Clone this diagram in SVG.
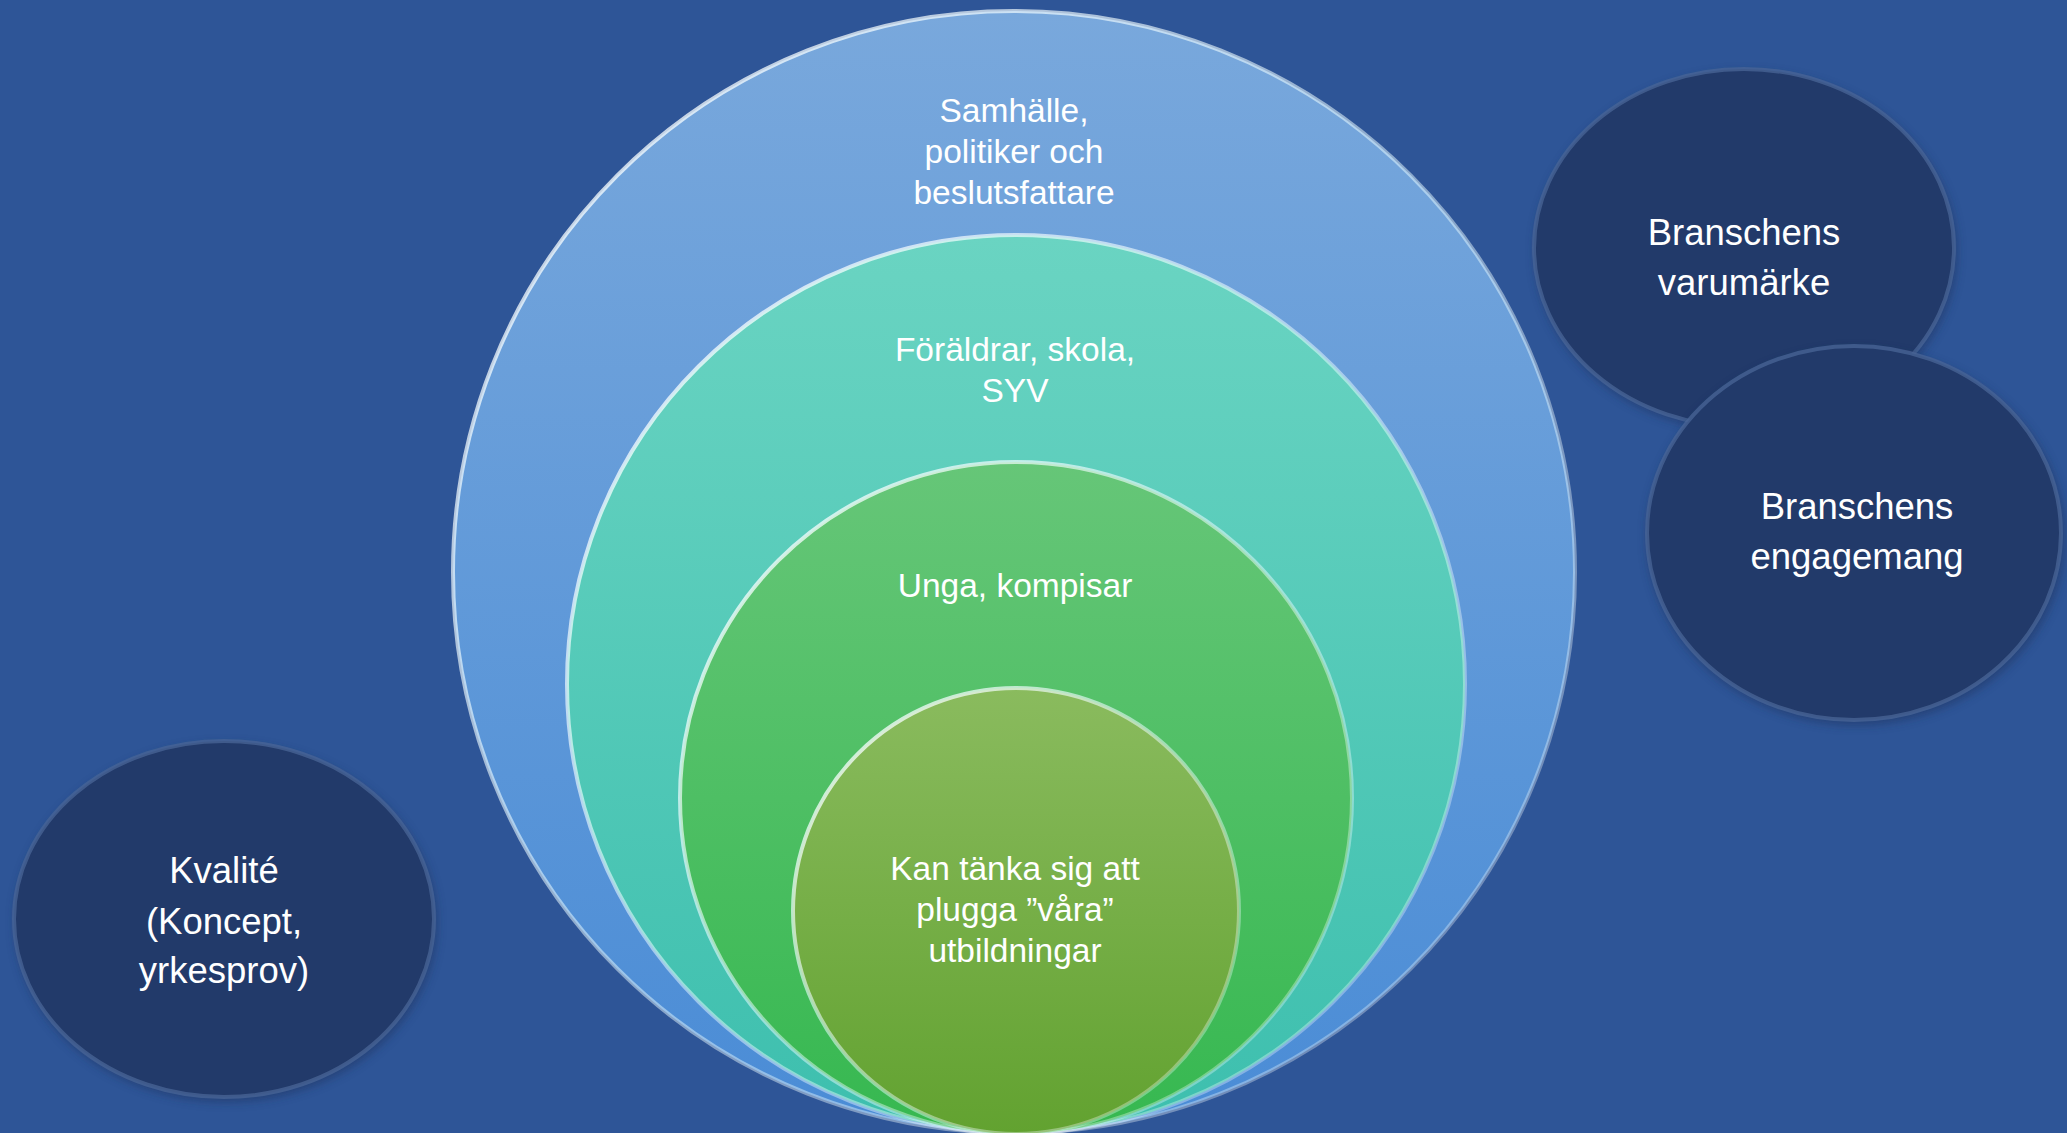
<svg xmlns="http://www.w3.org/2000/svg" width="2067" height="1133" viewBox="0 0 2067 1133">
<defs>
<style>
.t{font-family:"Liberation Sans","Open Sans",Arial,sans-serif;fill:#ffffff;text-anchor:middle}
.c{font-size:33.5px}
.d{font-size:36.5px}
.dark{fill:#223a6a;stroke:#4a6597;stroke-width:4;stroke-opacity:0.75}
</style>
<linearGradient id="g1" x1="0" y1="0" x2="0" y2="1"><stop offset="0" stop-color="#79a8dc"/><stop offset="1" stop-color="#4a8cd6"/></linearGradient>
<linearGradient id="g2" x1="0" y1="0" x2="0" y2="1"><stop offset="0" stop-color="#6ad4c2"/><stop offset="1" stop-color="#3dbfae"/></linearGradient>
<linearGradient id="g3" x1="0" y1="0" x2="0" y2="1"><stop offset="0" stop-color="#66c678"/><stop offset="1" stop-color="#36b850"/></linearGradient>
<linearGradient id="g4" x1="0" y1="0" x2="0" y2="1"><stop offset="0" stop-color="#8abb5e"/><stop offset="1" stop-color="#62a230"/></linearGradient>
<linearGradient id="rim" x1="0" y1="0" x2="1" y2="1"><stop offset="0" stop-color="#ffffff" stop-opacity="0.85"/><stop offset="0.5" stop-color="#e8fbff" stop-opacity="0.5"/><stop offset="1" stop-color="#ffffff" stop-opacity="0.25"/></linearGradient>
<filter id="sh" x="-10%" y="-10%" width="120%" height="120%"><feGaussianBlur stdDeviation="5"/></filter>
</defs>
<rect width="2067" height="1133" fill="#2e5597"/>
<g id="circle-samhalle">
<circle cx="1014" cy="572" r="561" fill="url(#g1)" stroke="url(#rim)" stroke-width="4"/>
<text class="t c" x="1014" y="122">Samhälle,</text>
<text class="t c" x="1014" y="163">politiker och</text>
<text class="t c" x="1014" y="204">beslutsfattare</text>
</g>
<g id="circle-foraldrar">
<circle cx="1016" cy="684" r="449" fill="url(#g2)" stroke="url(#rim)" stroke-width="4"/>
<text class="t c" x="1015" y="361">Föräldrar, skola,</text>
<text class="t c" x="1015" y="402">SYV</text>
</g>
<g id="circle-unga">
<circle cx="1016" cy="798" r="336" fill="url(#g3)" stroke="url(#rim)" stroke-width="4"/>
<text class="t c" x="1015" y="597">Unga, kompisar</text>
</g>
<g id="circle-kan">
<circle cx="1016" cy="911" r="223" fill="url(#g4)" stroke="url(#rim)" stroke-width="4"/>
<text class="t c" x="1015" y="880">Kan tänka sig att</text>
<text class="t c" x="1015" y="921">plugga ”våra”</text>
<text class="t c" x="1015" y="962">utbildningar</text>
</g>
<g id="node-kvalite">
<ellipse cx="226" cy="923" rx="211" ry="179" fill="#1b2f58" opacity="0.5" filter="url(#sh)"/>
<ellipse class="dark" cx="224" cy="919" rx="210" ry="178"/>
<text class="t d" x="224" y="883">Kvalité</text>
<text class="t d" x="224" y="934">(Koncept,</text>
<text class="t d" x="224" y="983">yrkesprov)</text>
</g>
<g id="node-varumarke">
<ellipse cx="1746" cy="252" rx="211" ry="180" fill="#1b2f58" opacity="0.5" filter="url(#sh)"/>
<ellipse class="dark" cx="1744" cy="248" rx="210" ry="179"/>
<text class="t d" x="1744" y="245">Branschens</text>
<text class="t d" x="1744" y="295">varumärke</text>
</g>
<g id="node-engagemang">
<ellipse cx="1856" cy="537" rx="209" ry="188" fill="#1b2f58" opacity="0.5" filter="url(#sh)"/>
<ellipse class="dark" cx="1854" cy="533" rx="207" ry="187"/>
<text class="t d" x="1857" y="519">Branschens</text>
<text class="t d" x="1857" y="569">engagemang</text>
</g>
<g id="connectors"/>
</svg>
